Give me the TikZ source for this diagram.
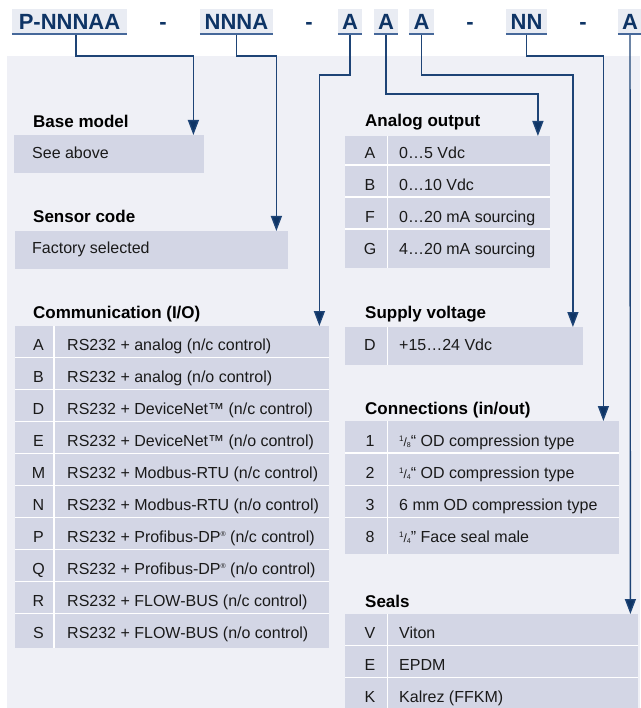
\documentclass[tikz,border=0pt]{standalone}
\usepackage{fontspec}
\setmainfont{Liberation Sans}
\usetikzlibrary{arrows.meta,calc}
\definecolor{panelbg}{HTML}{EFF0F6}
\definecolor{cellbg}{HTML}{D3D6E5}
\definecolor{hboxbg}{HTML}{E9ECF3}
\definecolor{navy}{HTML}{0E3465}
\definecolor{ulinec}{HTML}{46689A}
\definecolor{wirec}{HTML}{1E4476}
\definecolor{bodyc}{HTML}{1A1A1A}
\newcommand{\vfr}[2]{\raisebox{0.6ex}{\fontsize{8}{8}\selectfont #1}{\fontsize{12}{12}\selectfont/}\raisebox{-0.15ex}{\fontsize{7}{7}\selectfont #2}}
\newcommand{\regm}{\raisebox{0.75ex}{\fontsize{7}{7}\selectfont ®}}
\begin{document}
\begin{tikzpicture}[x=1pt,y=-1pt,
  hdr/.style={fill=hboxbg, inner sep=0pt, minimum height=26pt, text height=15.5pt, text depth=0pt,
    font=\fontsize{22}{22}\selectfont\bfseries, text=navy},
  sepmark/.style={inner sep=0pt, text height=15.5pt, text depth=0pt,
    font=\fontsize{22}{22}\selectfont\bfseries, text=navy},
  ulin/.style={draw=ulinec, line width=2pt},
  ttl/.style={anchor=west, inner sep=0pt, text height=12.2pt, text depth=0pt,
    font=\fontsize{17}{17}\selectfont\bfseries, text=black},
  cellbox/.style={fill=cellbg, inner sep=0pt, anchor=north west},
  txt/.style={anchor=west, inner sep=0pt, text height=11.5pt, text depth=0pt,
    font=\fontsize{16}{16}\selectfont, text=bodyc},
  codec/.style={inner sep=0pt, text height=11.5pt, text depth=0pt,
    font=\fontsize{16}{16}\selectfont, text=bodyc},
  divl/.style={draw=white, line width=1.3pt},
  wire/.style={draw=wirec, line width=1.4pt, -{Triangle[width=11pt,length=15pt,fill=navy]}},
]
\useasboundingbox (0,0) rectangle (640,708);
\fill[panelbg] (7,56) rectangle (640,708);

% header codes
\node[hdr, minimum width=115pt] (hP) at (69.5,22) {P-NNNAA};
\node[sepmark] (s1) at (163,22) {-};
\node[hdr, minimum width=73pt] (hN) at (236.5,22) {NNNA};
\node[sepmark] (s2) at (309,22) {-};
\node[hdr, minimum width=24pt] (hA1) at (350,22) {A};
\node[hdr, minimum width=24pt] (hA2) at (386,22) {A};
\node[hdr, minimum width=25pt] (hA3) at (421.5,22) {A};
\node[sepmark] (s3) at (470,22) {-};
\node[hdr, minimum width=41pt] (hNN) at (526.5,22) {NN};
\node[sepmark] (s4) at (583,22) {-};
\node[hdr, minimum width=24pt] (hAL) at (630,22) {A};
\foreach \n in {hP,hN,hA1,hA2,hA3,hNN,hAL}
  \draw[ulin] ([yshift=1pt]\n.south west) -- ([yshift=1pt]\n.south east);

% left column
\node[ttl] (ttBase) at (33,121) {Base model};
\node[cellbox, minimum width=190pt, minimum height=38pt] (tBase) at (14,135) {};
\node[txt] (xBase) at (32,152.5) {See above};

\node[ttl] (ttSens) at (33,216.5) {Sensor code};
\node[cellbox, minimum width=273pt, minimum height=38pt] (tSens) at (15,231) {};
\node[txt] (xSens) at (32,248) {Factory selected};

\node[ttl] (ttComm) at (33,312) {Communication (I/O)};
\node[cellbox, minimum width=314pt, minimum height=322pt] (tComm) at (15,326) {};
\foreach \k in {0,...,8} \draw[divl] (15,357.3+32*\k) -- (329,357.3+32*\k);
\draw[divl] (54,326) -- (54,648);
\node[codec] (c1) at (38.5,344.7) {A}; \node[txt] (d1) at (67,344.7) {RS232 + analog (n/c control)};
\node[codec] (c2) at (38.5,376.7) {B}; \node[txt] (d2) at (67,376.7) {RS232 + analog (n/o control)};
\node[codec] (c3) at (38.5,408.7) {D}; \node[txt] (d3) at (67,408.7) {RS232 + DeviceNet™ (n/c control)};
\node[codec] (c4) at (38.5,440.7) {E}; \node[txt] (d4) at (67,440.7) {RS232 + DeviceNet™ (n/o control)};
\node[codec] (c5) at (38.5,472.7) {M}; \node[txt] (d5) at (67,472.7) {RS232 + Modbus-RTU (n/c control)};
\node[codec] (c6) at (38.5,504.7) {N}; \node[txt] (d6) at (67,504.7) {RS232 + Modbus-RTU (n/o control)};
\node[codec] (c7) at (38.5,536.7) {P}; \node[txt] (d7) at (67,536.7) {RS232 + Profibus-DP\regm{} (n/c control)};
\node[codec] (c8) at (38.5,568.7) {Q}; \node[txt] (d8) at (67,568.7) {RS232 + Profibus-DP\regm{} (n/o control)};
\node[codec] (c9) at (38.5,600.7) {R}; \node[txt] (d9) at (67,600.7) {RS232 + FLOW-BUS (n/c control)};
\node[codec] (c10) at (38.5,632.7) {S}; \node[txt] (d10) at (67,632.7) {RS232 + FLOW-BUS (n/o control)};

% right column
\node[ttl] (ttAna) at (365,120.5) {Analog output};
\node[cellbox, minimum width=205pt, minimum height=132pt] (tAna) at (345,136) {};
\foreach \yy in {165,197,229} \draw[divl] (345,\yy) -- (550,\yy);
\draw[divl] (387.5,136) -- (387.5,268);
\node[codec] (a1) at (370,152.5) {A}; \node[txt] (e1) at (399,152.5) {0…5 Vdc};
\node[codec] (a2) at (370,184.5) {B}; \node[txt] (e2) at (399,184.5) {0…10 Vdc};
\node[codec] (a3) at (370,216.5) {F}; \node[txt] (e3) at (399,216.5) {0…20 mA sourcing};
\node[codec] (a4) at (370,248.5) {G}; \node[txt] (e4) at (399,248.5) {4…20 mA sourcing};

\node[ttl] (ttSup) at (365,312) {Supply voltage};
\node[cellbox, minimum width=238pt, minimum height=38pt] (tSup) at (345,327) {};
\draw[divl] (387.5,327) -- (387.5,365);
\node[codec] (v1) at (370,344.5) {D}; \node[txt] (f1) at (399,344.5) {+15…24 Vdc};

\node[ttl] (ttCon) at (365,408.5) {Connections (in/out)};
\node[cellbox, minimum width=274pt, minimum height=133pt] (tCon) at (345,421) {};
\foreach \yy in {453,485.3,517.6} \draw[divl] (345,\yy) -- (619,\yy);
\draw[divl] (387.5,421) -- (387.5,554);
\node[codec] (k1) at (370,440.5) {1}; \node[txt] (g1) at (399,440.5) {\vfr{1}{8}“ OD compression type};
\node[codec] (k2) at (370,472.5) {2}; \node[txt] (g2) at (399,472.5) {\vfr{1}{4}“ OD compression type};
\node[codec] (k3) at (370,504.5) {3}; \node[txt] (g3) at (399,504.5) {6 mm OD compression type};
\node[codec] (k4) at (370,536.5) {8}; \node[txt] (g4) at (399,536.5) {\vfr{1}{4}" Face seal male};

\node[ttl] (ttSeal) at (365,601) {Seals};
\node[cellbox, minimum width=293pt, minimum height=94pt] (tSeal) at (345,614) {};
\foreach \yy in {645.5,677.5} \draw[divl] (345,\yy) -- (638,\yy);
\draw[divl] (387.5,614) -- (387.5,708);
\node[codec] (m1) at (370,632.7) {V}; \node[txt] (h1) at (399,632.7) {Viton};
\node[codec] (m2) at (370,664.5) {E}; \node[txt] (h2) at (399,664.5) {EPDM};
\node[codec] (m3) at (370,696.7) {K}; \node[txt] (h3) at (399,696.7) {Kalrez (FFKM)};

% connectors
\draw[wire] ([xshift=6.5pt]hP.south) -- ++(0,21) -| ([xshift=-11pt]tBase.north east);
\draw[wire] (hN.south) -- ++(0,21) -| ([xshift=-12pt]tSens.north east);
\draw[wire] (hA1.south) -- ++(0,40) -| ([xshift=-10pt]tComm.north east);
\draw[wire] (hA2.south) -- ++(0,59) -| ([xshift=-12.5pt]tAna.north east);
\draw[wire] (hA3.south) -- ++(0,40) -| ([xshift=-10.5pt]tSup.north east);
\draw[wire] (hNN.south) -- ++(0,21) -| ([xshift=-16pt]tCon.north east);
\draw[wire] (hAL.south) -- ([xshift=-8pt]tSeal.north east);
\end{tikzpicture}
\end{document}
